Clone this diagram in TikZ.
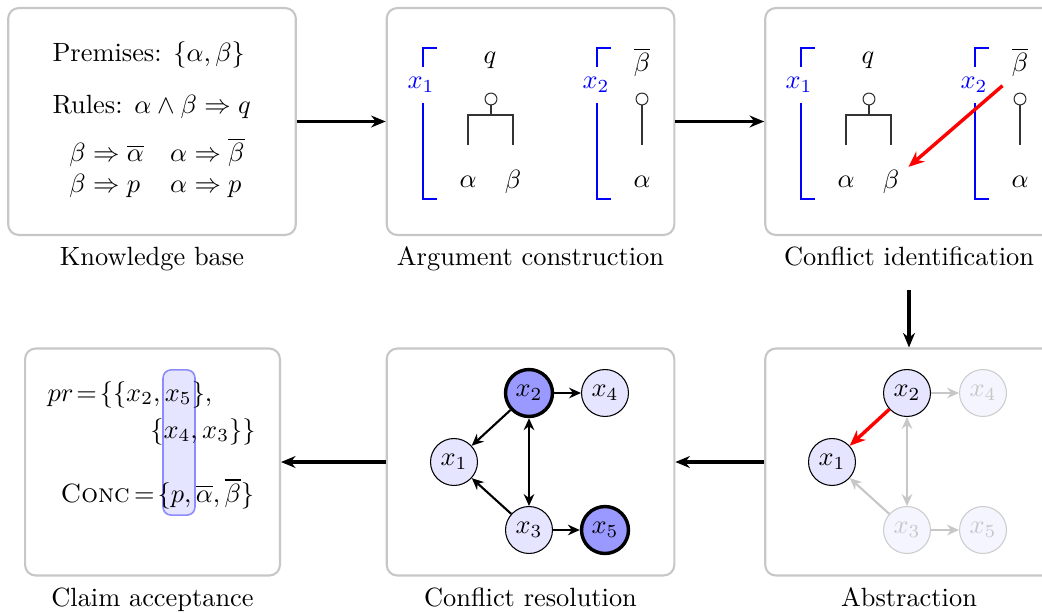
\documentclass[tikz,border=0pt]{standalone}
\usepackage{amsmath,amssymb}
\usetikzlibrary{positioning,arrows.meta}
\tikzset{
  stagebox/.style={draw=black!22, line width=0.8pt, rounded corners=4pt, minimum width=109pt, minimum height=86pt, inner sep=0pt},
  stagelabel/.style={text height=7pt, text depth=2pt, inner sep=2pt},
  flow/.style={-{Stealth[length=5.5pt,width=4.5pt]}, line width=1.25pt},
  bracket/.style={blue, thin},
  argname/.style={text=blue, fill=white, inner sep=4pt},
  support/.style={circle, draw=black!80, thin, fill=white, minimum size=4.5pt, inner sep=0pt},
  treeline/.style={draw=black!80, thin},
  plaintext/.style={inner sep=0pt},
  argnode/.style={circle, draw, thin, fill=blue!10, minimum size=17.8pt, inner sep=0pt},
  accepted/.style={fill=blue!40, line width=1.3pt},
  faded/.style={draw=black!20, fill=blue!4, text=black!22},
  attack/.style={->, >={Stealth[length=4.5pt,width=4pt]}, thick},
  fadedattack/.style={attack, draw=black!22},
  conflict/.style={-{Stealth[length=6pt,width=5pt]}, red, line width=1.3pt},
  highlight/.style={draw=blue!45, fill=blue!10, rounded corners=3pt, semithick},
}
\begin{document}
\begin{tikzpicture}[x=0.379pt, y=-0.379pt]
  \useasboundingbox (0,0) rectangle (1042,612);
  \clip (0,0) rectangle (1042,612);

  % stages
  \node[stagebox] (kb) at (152,121.5) {};
  \node[stagebox] (ac) at (530.5,121.5) {};
  \node[stagebox] (ci) at (909,121.5) {};
  \node[stagebox, minimum width=96.6pt] (ca) at (152.5,462) {};
  \node[stagebox] (cr) at (530.5,462) {};
  \node[stagebox] (ab) at (909,462) {};

  \node[stagelabel, below=2pt of kb] (kblabel) {Knowledge base};
  \node[stagelabel, below=2pt of ac] (aclabel) {Argument construction};
  \node[stagelabel, below=2pt of ci] (cilabel) {Conflict identification};
  \node[stagelabel, below=2pt of ca] (calabel) {Claim acceptance};
  \node[stagelabel, below=2pt of cr] (crlabel) {Conflict resolution};
  \node[stagelabel, below=2pt of ab] (ablabel) {Abstraction};

  \draw[flow] (kb) -- (ac);
  \draw[flow] (ac) -- (ci);
  \draw[flow, shorten <=5pt] (cilabel) -- (ab);
  \draw[flow] (ab) -- (cr);
  \draw[flow] (cr) -- (ca);

  % knowledge base
  \node[plaintext, anchor=base west] (kbprem) at (52,61) {Premises: $\{\alpha,\beta\}$};
  \node[plaintext, anchor=base west] (kbrules) at (52,113) {Rules: $\alpha\wedge\beta\Rightarrow q$};
  \node (kbstrict) at (157,170) {$\begin{array}{ll}
      \beta\Rightarrow\overline{\alpha} & \alpha\Rightarrow\overline{\beta}\\
      \beta\Rightarrow p & \alpha\Rightarrow p
    \end{array}$};

  % argument construction
  \draw[bracket] (437,48) -| (423,199) -- (437,199);
  \node[argname] (acx1) at (421,85) {$x_1$};
  \node (acq) at (490,60) {$q$};
  \node[support] (acqs) at (491,99) {};
  \node (aca) at (468,182) {$\alpha$};
  \node (acb) at (513,182) {$\beta$};
  \coordinate (acjoin) at (491,115);
  \coordinate (acleaf) at (491,145);
  \draw[treeline] (acqs) -- (acjoin);
  \draw[treeline] (aca |- acleaf) |- (acjoin) -| (acb |- acleaf);

  \draw[bracket] (611,48) -| (597,199) -- (611,199);
  \node[argname] (acx2) at (596,85) {$x_2$};
  \node (acbb) at (642,62) {$\overline{\beta}$};
  \node[support] (acbbs) at (642,99) {};
  \node (aca2) at (642,182) {$\alpha$};
  \coordinate (acleaf2) at (642,145);
  \draw[treeline] (acbbs) -- (acleaf2);

  % conflict identification
  \draw[bracket] (815,48) -| (801,199) -- (815,199);
  \node[argname] (cix1) at (799,85) {$x_1$};
  \node (ciq) at (868,60) {$q$};
  \node[support] (ciqs) at (869,99) {};
  \node (cia) at (846,182) {$\alpha$};
  \node (cib) at (891,182) {$\beta$};
  \coordinate (cijoin) at (869,115);
  \coordinate (cileaf) at (869,145);
  \draw[treeline] (ciqs) -- (cijoin);
  \draw[treeline] (cia |- cileaf) |- (cijoin) -| (cib |- cileaf);

  \draw[bracket] (989,48) -| (975,199) -- (989,199);
  \node[argname] (cix2) at (974,85) {$x_2$};
  \node (cibb) at (1020,62) {$\overline{\beta}$};
  \node[support] (cibbs) at (1020,99) {};
  \node (cia2) at (1020,182) {$\alpha$};
  \coordinate (cileaf2) at (1020,145);
  \draw[treeline] (cibbs) -- (cileaf2);
  \draw[conflict] (cibb.south west) -- (cib);

  % abstraction
  \node[argnode] (abx2) at (907,393) {$x_2$};
  \node[argnode, faded] (abx4) at (983,393) {$x_4$};
  \node[argnode] (abx1) at (832,462) {$x_1$};
  \node[argnode, faded] (abx3) at (907,530) {$x_3$};
  \node[argnode, faded] (abx5) at (983,530) {$x_5$};
  \draw[fadedattack] (abx2) -- (abx4);
  \draw[fadedattack, <->] (abx2) -- (abx3);
  \draw[fadedattack] (abx3) -- (abx1);
  \draw[fadedattack] (abx3) -- (abx5);
  \draw[conflict] (abx2) -- (abx1);

  % conflict resolution
  \node[argnode, accepted] (crx2) at (529,393) {$x_2$};
  \node[argnode] (crx4) at (605,393) {$x_4$};
  \node[argnode] (crx1) at (454,462) {$x_1$};
  \node[argnode] (crx3) at (529,530) {$x_3$};
  \node[argnode, accepted] (crx5) at (605,530) {$x_5$};
  \draw[attack] (crx2) -- (crx4);
  \draw[attack] (crx2) -- (crx1);
  \draw[attack, <->] (crx2) -- (crx3);
  \draw[attack] (crx3) -- (crx1);
  \draw[attack] (crx3) -- (crx5);

  % claim acceptance
  \node[highlight, minimum width=12.1pt, minimum height=55pt] (cahl) at (179,442.5) {};
  \node[plaintext, anchor=base west] (capr) at (47,401) {$pr\!=\!\{\{x_2,x_5\},$};
  \node[plaintext, anchor=base east] (capr2) at (256,438) {$\{x_4,x_3\}\}$};
  \node[plaintext, anchor=base west] (caconc) at (60,502) {\textsc{Conc}$\,=\!\{p,\overline{\alpha},\overline{\beta}\}$};
\end{tikzpicture}
\end{document}
